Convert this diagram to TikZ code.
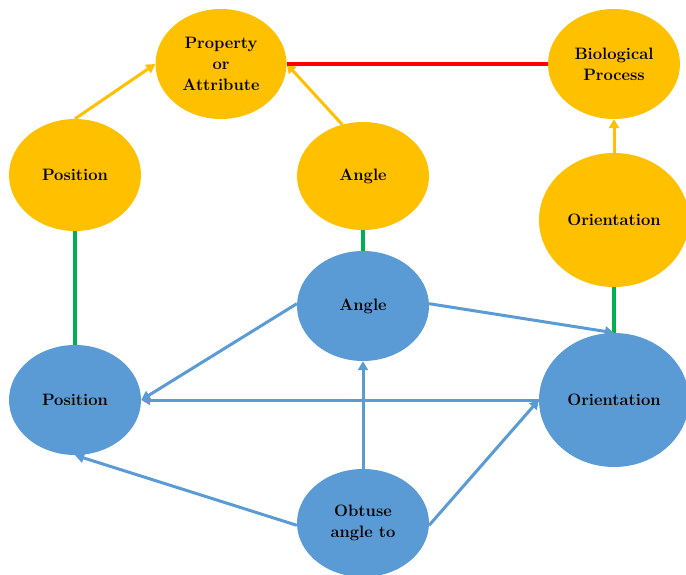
\documentclass[tikz,border=0pt]{standalone}
\usetikzlibrary{shapes.geometric,arrows.meta}
\definecolor{gold}{HTML}{FFC000}
\definecolor{sky}{HTML}{5B9BD5}
\definecolor{grn}{HTML}{00B050}
\definecolor{rd}{HTML}{FF0000}
\begin{document}
\begin{tikzpicture}[x=1pt,y=-1pt,
  ell/.style={ellipse,inner sep=0pt,align=center,font=\fontsize{16.5}{21}\selectfont\bfseries},
  onode/.style={ell,fill=gold},
  bnode/.style={ell,fill=sky},
  yarr/.style={draw=gold,line width=3pt,-{Triangle[length=9pt,width=10pt]}},
  barr/.style={draw=sky,line width=3pt,-{Triangle[length=9pt,width=10pt]}},
  gline/.style={draw=grn,line width=4.5pt},
  rline/.style={draw=rd,line width=4.5pt}]
\useasboundingbox (0,0) rectangle (686,575);
\node[onode,minimum width=131pt,minimum height=110pt] (prop) at (221,64) {Property\\or\\Attribute};
\node[onode,minimum width=132pt,minimum height=110pt] (bio) at (614,64) {Biological\\Process};
\node[onode,minimum width=132pt,minimum height=112pt] (po) at (75,175) {Position};
\node[onode,minimum width=132pt,minimum height=108pt] (ao) at (363,176) {Angle};
\node[onode,minimum width=150pt,minimum height=134pt] (oo) at (614,220) {Orientation};
\node[bnode,minimum width=132pt,minimum height=110pt] (ab) at (363,306) {Angle};
\node[bnode,minimum width=132pt,minimum height=110pt] (pb) at (75,400) {Position};
\node[bnode,minimum width=150pt,minimum height=134pt] (ob) at (614,400) {Orientation};
\node[bnode,minimum width=132pt,minimum height=108pt] (obt) at (363,523) {Obtuse\\angle to};
% yellow arrows
\draw[yarr] (po.north) -- (prop.west);
\draw[yarr] (ao.112) -- (prop.east);
\draw[yarr] (oo.north) -- (bio.south);
% red line
\draw[rline] (prop.east) -- (bio.west);
% green lines
\draw[gline] (po.south) -- (pb.north);
\draw[gline] (ao.south) -- (ab.north);
\draw[gline] (oo.south) -- (ob.north);
% blue arrows
\draw[barr] (ab.178) -- (pb.east);
\draw[barr] (ab.2) -- (ob.north);
\draw[barr] (ob.west) -- (pb.east);
\draw[barr] (obt.182) -- (pb.south);
\draw[barr] (obt.north) -- (ab.south);
\draw[barr] (obt.358) -- (ob.west);
\end{tikzpicture}
\end{document}
